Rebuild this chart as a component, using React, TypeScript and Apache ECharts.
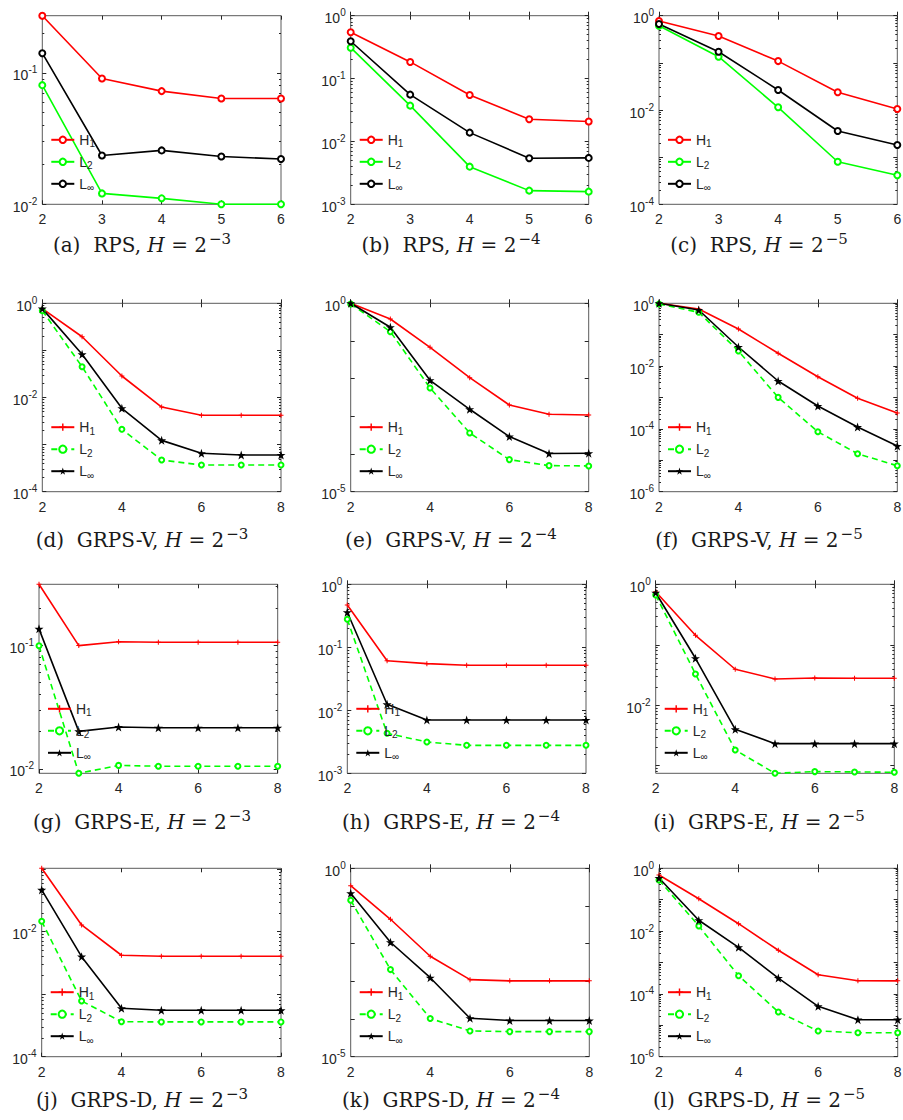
import React, { useEffect, useRef } from 'react';
import * as echarts from 'echarts';

// ---------- data ----------
const X_RPS = [2, 3, 4, 5, 6];
const X_GRPS = [2, 3, 4, 5, 6, 7, 8];

const aH1 = [0.272, 0.0906, 0.0726, 0.0638, 0.0638];
const aL2 = [0.0806, 0.0121, 0.0111, 0.01, 0.01];
const aLinf = [0.141, 0.0235, 0.0257, 0.0231, 0.0221];
const bH1 = [0.545, 0.184, 0.0548, 0.0225, 0.0207];
const bL2 = [0.31, 0.0371, 0.00397, 0.00165, 0.00159];
const bLinf = [0.392, 0.0555, 0.0138, 0.0054, 0.00547];
const cH1 = [0.772, 0.371, 0.109, 0.0237, 0.0105];
const cL2 = [0.614, 0.135, 0.0114, 0.0008, 0.000412];
const cLinf = [0.667, 0.172, 0.0266, 0.00359, 0.00181];

const dH1 = [0.77, 0.195, 0.0286, 0.00628, 0.00419, 0.00419, 0.00419];
const dL2 = [0.697, 0.0451, 0.00211, 0.000471, 0.000369, 0.000369, 0.000369];
const dLinf = [0.77, 0.0826, 0.0059, 0.00123, 0.000653, 0.000601, 0.000601];
const eH1 = [1.0, 0.383, 0.068, 0.01063, 0.002, 0.001135, 0.00109];
const eL2 = [0.96, 0.177, 0.00566, 0.000363, 7.1e-5, 4.92e-5, 4.83e-5];
const eLinf = [1.0, 0.231, 0.00906, 0.00154, 0.00029, 0.000103, 0.000105];
const fH1 = [1.0, 0.658, 0.152, 0.0256, 0.00459, 0.000944, 0.00032];
const fL2 = [0.95, 0.517, 0.0302, 0.00101, 8.1e-5, 1.62e-5, 6.7e-6];
const fLinf = [1.0, 0.612, 0.0406, 0.00335, 0.000536, 0.000115, 2.85e-5];

const gH1 = [0.312, 0.0995, 0.107, 0.106, 0.106, 0.106, 0.106];
const gL2 = [0.0993, 0.0092, 0.01066, 0.0105, 0.0105, 0.0105, 0.0105];
const gLinf = [0.136, 0.0201, 0.0218, 0.0215, 0.0215, 0.0215, 0.0215];
const hH1 = [0.469, 0.0613, 0.055, 0.0518, 0.0518, 0.0518, 0.0518];
const hL2 = [0.278, 0.00431, 0.00314, 0.00278, 0.00278, 0.00278, 0.00278];
const hLinf = [0.36, 0.01245, 0.00702, 0.00702, 0.00702, 0.00702, 0.00702];
const iH1 = [0.755, 0.1436, 0.0394, 0.0272, 0.0283, 0.028, 0.028];
const iL2 = [0.666, 0.0329, 0.00182, 0.00075, 0.0008, 0.00079, 0.00078];
const iLinf = [0.726, 0.0598, 0.004, 0.00232, 0.00232, 0.00232, 0.00232];

const jH1 = [0.103, 0.0128, 0.00419, 0.00403, 0.00403, 0.00403, 0.00403];
const jL2 = [0.01466, 0.000779, 0.000363, 0.00036, 0.00036, 0.00036, 0.00036];
const jLinf = [0.0465, 0.00398, 0.000594, 0.000552, 0.000552, 0.000552, 0.000552];
const kH1 = [0.346, 0.0444, 0.00463, 0.00111, 0.00103, 0.00103, 0.00103];
const kL2 = [0.142, 0.00205, 0.000103, 4.83e-5, 4.63e-5, 4.63e-5, 4.63e-5];
const kLinf = [0.217, 0.0109, 0.00125, 0.000105, 9.1e-5, 9.1e-5, 9.1e-5];
const lH1 = [0.612, 0.1076, 0.0172, 0.00245, 0.000408, 0.000263, 0.00026];
const lL2 = [0.425, 0.0145, 0.00038, 2.65e-5, 6.6e-6, 5.8e-6, 5.8e-6];
const lLinf = [0.491, 0.0221, 0.00305, 0.00032, 4.03e-5, 1.51e-5, 1.51e-5];

const SERIES_H1 = [aH1, bH1, cH1, dH1, eH1, fH1, gH1, hH1, iH1, jH1, kH1, lH1];
const SERIES_L2 = [aL2, bL2, cL2, dL2, eL2, fL2, gL2, hL2, iL2, jL2, kL2, lL2];
const SERIES_LINF = [aLinf, bLinf, cLinf, dLinf, eLinf, fLinf, gLinf, hLinf, iLinf, jLinf, kLinf, lLinf];

const LETTERS = ['a', 'b', 'c', 'd', 'e', 'f', 'g', 'h', 'i', 'j', 'k', 'l'];
const METHODS = ['RPS', 'RPS', 'RPS', 'GRPS-V', 'GRPS-V', 'GRPS-V', 'GRPS-E', 'GRPS-E', 'GRPS-E', 'GRPS-D', 'GRPS-D', 'GRPS-D'];
const H_EXP = ['3', '4', '5', '3', '4', '5', '3', '4', '5', '3', '4', '5'];

const Y_MIN = [0.01, 1e-3, 1e-4, 1e-4, 1e-5, 1e-6, 0.0092, 1e-3, 7.5e-4, 1e-4, 1e-5, 1e-6];
const Y_MAX = [0.272, 1, 1, 1, 1, 1, 0.312, 1, 1, 0.103, 1, 1];
const Y_LABEL_EXP = [
  [-2, -1], [-3, -2, -1, 0], [-4, -2, 0],
  [-4, -2, 0], [-5, 0], [-6, -4, -2, 0],
  [-2, -1], [-3, -2, -1, 0], [-2, 0],
  [-4, -2], [-5, 0], [-6, -4, -2, 0],
];
const SUB_DECADE_MINOR = [true, true, true, true, false, true, true, true, true, true, false, true];

// ---------- layout ----------
const GRID_L = [[42.3, 350.7, 659], [42.3, 350.7, 659], [39, 347.3, 655.7], [41.7, 350.7, 659]];
const GRID_R = [[281, 588.7, 897.3], [281, 588.7, 897.3], [277.7, 586, 894.3], [281, 589.3, 897.7]];
const GRID_T = [15.7, 303.3, 584.3, 868.3];
const GRID_B = [204.3, 491.7, 773.3, 1056.7];
const CAP_X = [142, 451, 759];
const CAP_Y = [245, 540, 822, 1100];

const AX = '#262626';
const BOX = '#5a5a5a';
const SANS = '"Liberation Sans", Arial, Helvetica, sans-serif';
const SERIF = '"DejaVu Serif", "Liberation Serif", serif';
const CAP_COLOR = '#1a1a1a';
const RED = '#ff0000';
const GREEN = '#00ff00';
const BLACK = '#000000';

const STAR = 'path://M50 0 L61.8 35.1 L99 35.1 L69 56.9 L80.4 91.9 L50 70.3 L19.6 91.9 L31 56.9 L1 35.1 L38.2 35.1 Z';
const PLUS = 'path://M4 0 H6 V4 H10 V6 H6 V10 H4 V6 H0 V4 H4 Z';

function buildOption() {
  const grid: any[] = [];
  const xAxis: any[] = [];
  const yAxis: any[] = [];
  const series: any[] = [];
  const legend: any[] = [];
  const graphic: any[] = [];

  for (let i = 0; i < 12; i++) {
    const row = Math.floor(i / 3);
    const col = i % 3;
    const xs = row === 0 ? X_RPS : X_GRPS;
    const gl = GRID_L[row][col];
    const gr = GRID_R[row][col];
    const gt = GRID_T[row];
    const gb = GRID_B[row];
    grid.push({
      left: gl, top: gt, width: gr - gl, height: gb - gt,
      show: true, borderColor: BOX, borderWidth: 1, backgroundColor: 'transparent',
      containLabel: false, outerBoundsMode: 'none',
    });

    const xBase = {
      gridIndex: i, type: 'value', min: xs[0], max: xs[xs.length - 1], interval: row === 0 ? 1 : 2,
      axisLine: { show: false }, splitLine: { show: false },
      axisTick: { show: true, inside: true, length: 4, lineStyle: { color: AX, width: 1 } },
    };
    xAxis.push({
      ...xBase, position: 'bottom',
      axisLabel: { show: true, margin: 8, fontSize: 14, color: AX, fontFamily: SANS },
    });
    xAxis.push({ ...xBase, position: 'top', axisLabel: { show: false } });

    const lmin = Math.log10(Y_MIN[i]);
    const lmax = Math.log10(Y_MAX[i]);
    const majors: number[] = [];
    for (let n = Math.ceil(lmin - 1e-9); n <= Math.floor(lmax + 1e-9); n++) majors.push(n);
    const minors: number[] = [];
    if (SUB_DECADE_MINOR[i]) {
      for (let n = Math.floor(lmin) - 1; n <= Math.floor(lmax); n++) {
        for (let k = 2; k <= 9; k++) {
          const v = n + Math.log10(k);
          if (v > lmin + 1e-6 && v < lmax - 1e-6) minors.push(v);
        }
      }
    }
    const yBase = {
      gridIndex: i, type: 'value', min: lmin, max: lmax,
      axisLine: { show: false }, splitLine: { show: false },
    };
    const majorTick = { show: true, inside: true, length: 4, customValues: majors, lineStyle: { color: AX, width: 1 } };
    const minorTick = { show: true, inside: true, length: 2, customValues: minors, lineStyle: { color: AX, width: 1 } };
    yAxis.push({
      ...yBase, position: 'left', axisTick: majorTick,
      axisLabel: {
        show: true, margin: 5, customValues: Y_LABEL_EXP[i],
        formatter: (v: number) => `{b|10}{s|${Math.round(v)}}`,
        rich: {
          b: { fontSize: 14, color: AX, fontFamily: SANS, padding: [5, 0, 0, 0] },
          s: { fontSize: 10, color: AX, fontFamily: SANS, padding: [0, 0, 6, 0] },
        },
      },
    });
    yAxis.push({ ...yBase, position: 'left', axisTick: minorTick, axisLabel: { show: false } });
    yAxis.push({ ...yBase, position: 'right', axisTick: majorTick, axisLabel: { show: false } });
    yAxis.push({ ...yBase, position: 'right', axisTick: minorTick, axisLabel: { show: false } });

    const L = LETTERS[i];
    const names = [`${L}:H1`, `${L}:L2`, `${L}:Linf`];
    const toData = (vals: number[]) => xs.map((x, k) => [x, Math.log10(vals[k])]);
    const common = { type: 'line', xAxisIndex: 2 * i, yAxisIndex: 4 * i, clip: false, animation: false };
    if (row === 0) {
      const mk = (name: string, vals: number[], color: string) => ({
        ...common, name, data: toData(vals), symbol: 'emptyCircle', symbolSize: 6,
        lineStyle: { color, width: 1.6 }, itemStyle: { color, borderWidth: 1.3 },
      });
      series.push(mk(names[0], SERIES_H1[i], RED));
      series.push(mk(names[1], SERIES_L2[i], GREEN));
      series.push(mk(names[2], SERIES_LINF[i], BLACK));
    } else {
      series.push({
        ...common, name: names[0], data: toData(SERIES_H1[i]), symbol: PLUS, symbolSize: 5,
        lineStyle: { color: RED, width: 1.6 }, itemStyle: { color: RED },
      });
      series.push({
        ...common, name: names[1], data: toData(SERIES_L2[i]), symbol: 'emptyCircle', symbolSize: 5,
        lineStyle: { color: GREEN, width: 1.6, type: [6, 4] }, itemStyle: { color: GREEN, borderWidth: 1.2 },
      });
      series.push({
        ...common, name: names[2], data: toData(SERIES_LINF[i]), symbol: STAR, symbolSize: 9,
        lineStyle: { color: BLACK, width: 1.6 }, itemStyle: { color: BLACK },
      });
    }

    legend.push({
      show: true, orient: 'vertical', left: gl + 8, top: gb - 63 - 8.5, padding: 0,
      itemGap: 6, itemWidth: 23, itemHeight: row === 0 ? 8 : 9, selectedMode: false,
      data: names,
      formatter: (name: string) => {
        if (name.endsWith('H1')) return '{m|H}{s|1}';
        if (name.endsWith('L2')) return '{m|L}{s|2}';
        return '{m|L}{s|\u221e}';
      },
      textStyle: {
        color: AX, fontFamily: SANS, fontSize: 14,
        rich: {
          m: { fontSize: 14, color: AX, fontFamily: SANS },
          s: { fontSize: 10, color: AX, fontFamily: SANS, padding: [8, 0, 0, 0] },
        },
      },
    });

    graphic.push({
      type: 'text', x: CAP_X[col], y: CAP_Y[row],
      style: {
        text: `{t|(${L})  ${METHODS[i]}, }{i|H}{t| = 2}{s|\u2212${H_EXP[i]}}`,
        align: 'center', verticalAlign: 'middle', textAlign: 'center', textVerticalAlign: 'middle',
        rich: {
          t: { fontSize: 20, fontFamily: SERIF, fill: CAP_COLOR, color: CAP_COLOR },
          i: { fontSize: 20, fontFamily: SERIF, fontStyle: 'italic', fill: CAP_COLOR, color: CAP_COLOR },
          s: { fontSize: 15, fontFamily: SERIF, fill: CAP_COLOR, color: CAP_COLOR, padding: [0, 0, 12, 2] },
        },
      },
    });
  }

  return { animation: false, backgroundColor: '#ffffff', grid, xAxis, yAxis, series, legend, graphic };
}

export default function App() {
  const ref = useRef<HTMLDivElement>(null);
  useEffect(() => {
    if (!ref.current) return;
    const chart = echarts.init(ref.current, undefined, { renderer: 'svg' });
    chart.setOption(buildOption() as any);
    return () => chart.dispose();
  }, []);
  return <div ref={ref} style={{ position: 'absolute', left: 0, top: 0, width: 903, height: 1120 }} />;
}
